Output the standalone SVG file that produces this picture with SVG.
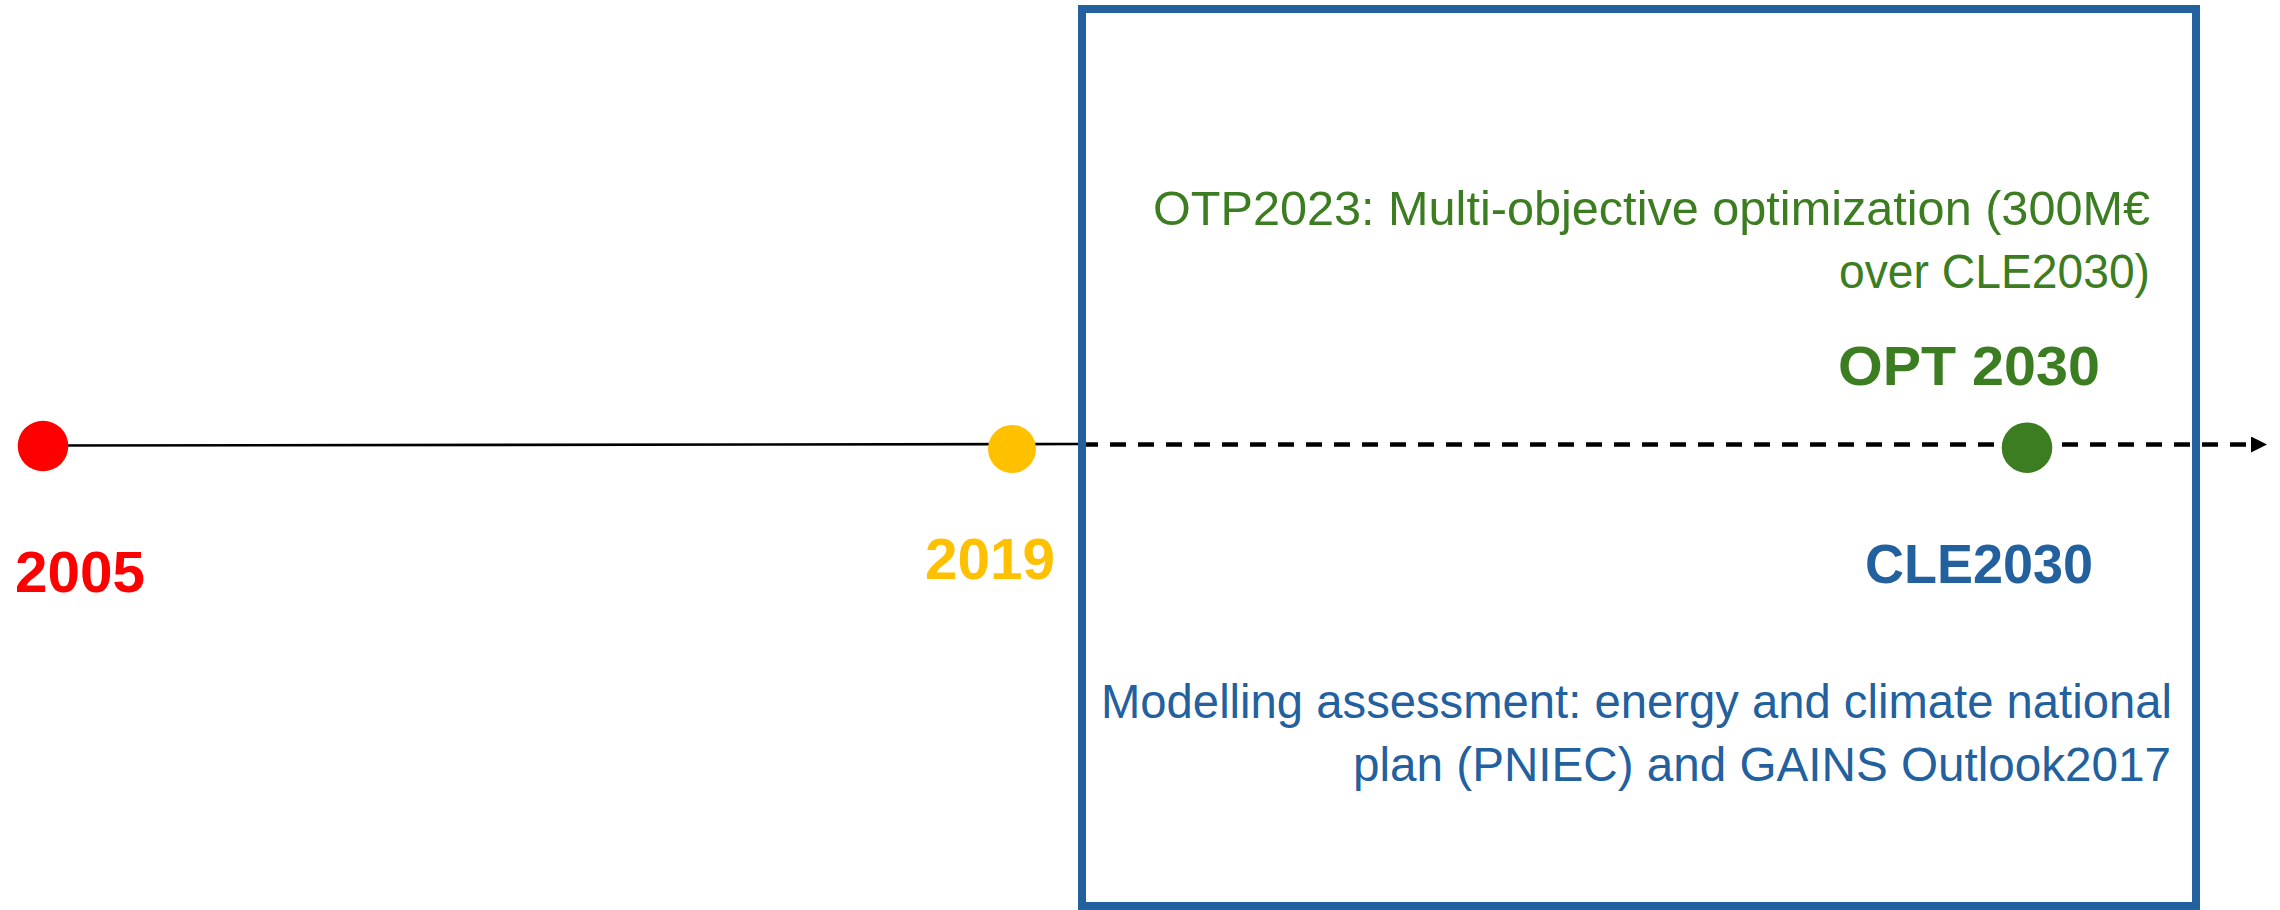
<svg xmlns="http://www.w3.org/2000/svg" width="2280" height="910" viewBox="0 0 2280 910">
  <style>
    .yr { font-family: "Liberation Sans", Arial, sans-serif; font-weight: bold; font-size: 57px; }
    .note { font-family: "Liberation Sans", Arial, sans-serif; font-size: 48px; }
    .tag { font-family: "Liberation Sans", Arial, sans-serif; font-weight: bold; font-size: 56px; }
    .green { fill: #3C7D22; }
    .blue { fill: #23609E; }
  </style>
  <defs>
    <marker id="arrow" markerUnits="userSpaceOnUse" markerWidth="16" markerHeight="16" refX="0" refY="8" orient="auto">
      <path d="M0,0 L16,8 L0,16 Z" fill="#000"/>
    </marker>
  </defs>

  <rect width="2280" height="910" fill="#fff"/>

  <!-- timeline connectors -->
  <g id="connectors">
    <line x1="44" y1="445.5" x2="1082" y2="444" stroke="#000" stroke-width="2.6"/>
    <line x1="1082" y1="444.5" x2="2251" y2="444.5" stroke="#000" stroke-width="4.4" stroke-dasharray="16 12" marker-end="url(#arrow)"/>
  </g>

  <!-- 2005 milestone -->
  <g id="node-2005">
    <circle cx="43" cy="446" r="25.3" fill="#FF0000"/>
    <text class="yr" x="15" y="591.5" fill="#FF0000" textLength="130" lengthAdjust="spacingAndGlyphs">2005</text>
  </g>

  <!-- 2019 milestone -->
  <g id="node-2019">
    <circle cx="1012" cy="449" r="24" fill="#FFC000"/>
    <text class="yr" x="925" y="578.5" fill="#FFC000" textLength="130" lengthAdjust="spacingAndGlyphs">2019</text>
  </g>

  <!-- 2030 scenario frame -->
  <g id="scenario-frame">
    <rect x="1082" y="9" width="1114" height="897" fill="none" stroke="#23609E" stroke-width="8"/>
  </g>

  <!-- 2030 milestone with both scenarios -->
  <g id="node-2030">
    <circle cx="2027" cy="447.7" r="25.3" fill="#3C7D22"/>
    <text class="note green" x="1153" y="224.5" textLength="997" lengthAdjust="spacingAndGlyphs">OTP2023: Multi-objective optimization (300M€</text>
    <text class="note green" x="1839" y="287.5" textLength="311" lengthAdjust="spacingAndGlyphs">over CLE2030)</text>
    <text class="tag green" x="1838" y="385" textLength="262" lengthAdjust="spacingAndGlyphs">OPT 2030</text>
    <text class="tag blue" x="1865" y="583" textLength="228" lengthAdjust="spacingAndGlyphs">CLE2030</text>
    <text class="note blue" x="1101" y="717.5" textLength="1071" lengthAdjust="spacingAndGlyphs">Modelling assessment: energy and climate national</text>
    <text class="note blue" x="1353" y="781" textLength="818" lengthAdjust="spacingAndGlyphs">plan (PNIEC) and GAINS Outlook2017</text>
  </g>
</svg>
